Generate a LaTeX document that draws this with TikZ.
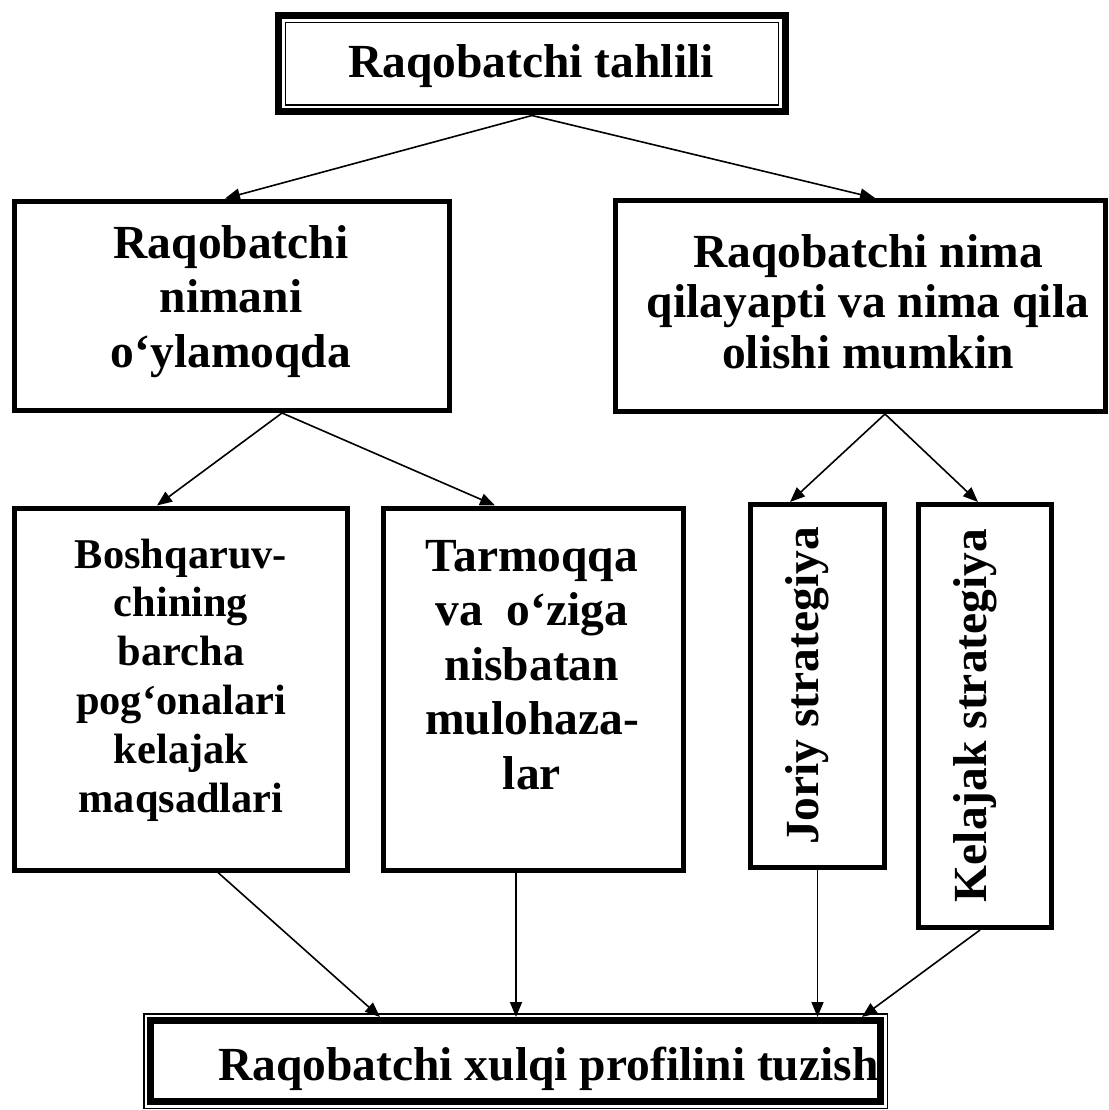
\documentclass[tikz,border=0pt]{standalone}
\usepackage{fontspec}
\setmainfont{Liberation Serif}
\usetikzlibrary{arrows.meta,calc}
\newcommand\boxlines[3]{\parbox[t]{460pt}{\centering\fontsize{#1}{#2}\selectfont #3}}
\tikzset{
  frame/.style={draw, line width=5pt, inner sep=0pt},
  link/.style={line width=1.6pt, -{Triangle[length=15pt,width=12pt]}},
  txt/.style={inner sep=0pt, anchor=base, font=\bfseries\fontsize{47.5}{54.6}\selectfont},
}
\begin{document}
\begin{tikzpicture}[x=1pt, y=-1pt]
\useasboundingbox (0,0) rectangle (1108,1110);
\fill[white] (0,0) rectangle (1108,1110);

% title box: thick outer frame, thin inner frame
\node[frame, line width=7pt, minimum width=507pt, minimum height=96.5pt] (top) at (532,63.75) {};
\draw[line width=1.5pt] ($(top.north west)+(10.5,10.5)$) rectangle ($(top.south east)+(-10.5,-10.5)$);
\node[txt] (t0) at (531,78) {Raqobatchi tahlili};

% first level
\node[frame, minimum width=435pt, minimum height=209.5pt] (lbox) at (232,305.75) {};
\node[txt] (t1) at (231,258) {\boxlines{47.5}{54.5}{Raqobatchi\\nimani\\o‘ylamoqda}};

\node[frame, minimum width=490pt, minimum height=211pt] (rbox) at (860.5,306) {};
\node[txt] (t2) at (868,267) {\boxlines{47.5}{50.5}{Raqobatchi nima\\qilayapti va nima qila\\olishi mumkin}};

% second level
\node[frame, minimum width=333pt, minimum height=362pt] (boshq) at (181,689) {};
\node[txt] (t3) at (181,568) {\boxlines{42.4}{48.8}{Boshqaruv-\\chining\\barcha\\pog‘onalari\\kelajak\\maqsadlari}};

\node[frame, minimum width=300pt, minimum height=362pt] (tarm) at (533,689) {};
\node[txt] (t4) at (532,571) {\boxlines{47.5}{54.6}{Tarmoqqa\\va\ \ o‘ziga\\nisbatan\\mulohaza-\\lar}};

\node[frame, minimum width=134pt, minimum height=363pt] (joriy) at (817.5,686) {};
\node[txt, rotate=90] (t5) at (818,686) {Joriy strategiya};

\node[frame, minimum width=133pt, minimum height=423pt] (kelaj) at (985,716) {};
\node[txt, rotate=90] (t6) at (986,715.5) {Kelajak strategiya};

% result box: thin outer frame, thick inner frame
\node[frame, line width=7pt, minimum width=730pt, minimum height=81pt] (bot) at (515.5,1061) {};
\draw[line width=1.5pt] ($(bot.north west)+(-3.25,-3.25)$) rectangle ($(bot.south east)+(3.25,3.25)$);
\node[txt, anchor=base west] (t7) at (218,1080) {Raqobatchi xulqi profilini tuzish};

% connectors
\draw[link] (top.south) -- ([xshift=-7pt]lbox.north);
\draw[link] (top.south) -- ([xshift=14.5pt]rbox.north);
\draw[link] ([xshift=50pt]lbox.south) -- ([xshift=-24pt]boshq.north);
\draw[link] ([xshift=50pt]lbox.south) -- ([xshift=-38pt]tarm.north);
\draw[link] ([xshift=24.5pt]rbox.south) -- ([xshift=-27.5pt]joriy.north);
\draw[link] ([xshift=24.5pt]rbox.south) -- ([xshift=-7pt]kelaj.north);
\draw[link] ([xshift=37pt]boshq.south) -- ([xshift=-135.5pt]bot.north);
\coordinate (tb) at ([xshift=-17pt]tarm.south);
\draw[link] (tb) -- (tb |- bot.north);
\draw[link] (joriy.south) -- (joriy.south |- bot.north);
\draw[link] ([xshift=-5pt]kelaj.south) -- ([xshift=346.5pt]bot.north);
\end{tikzpicture}
\end{document}
